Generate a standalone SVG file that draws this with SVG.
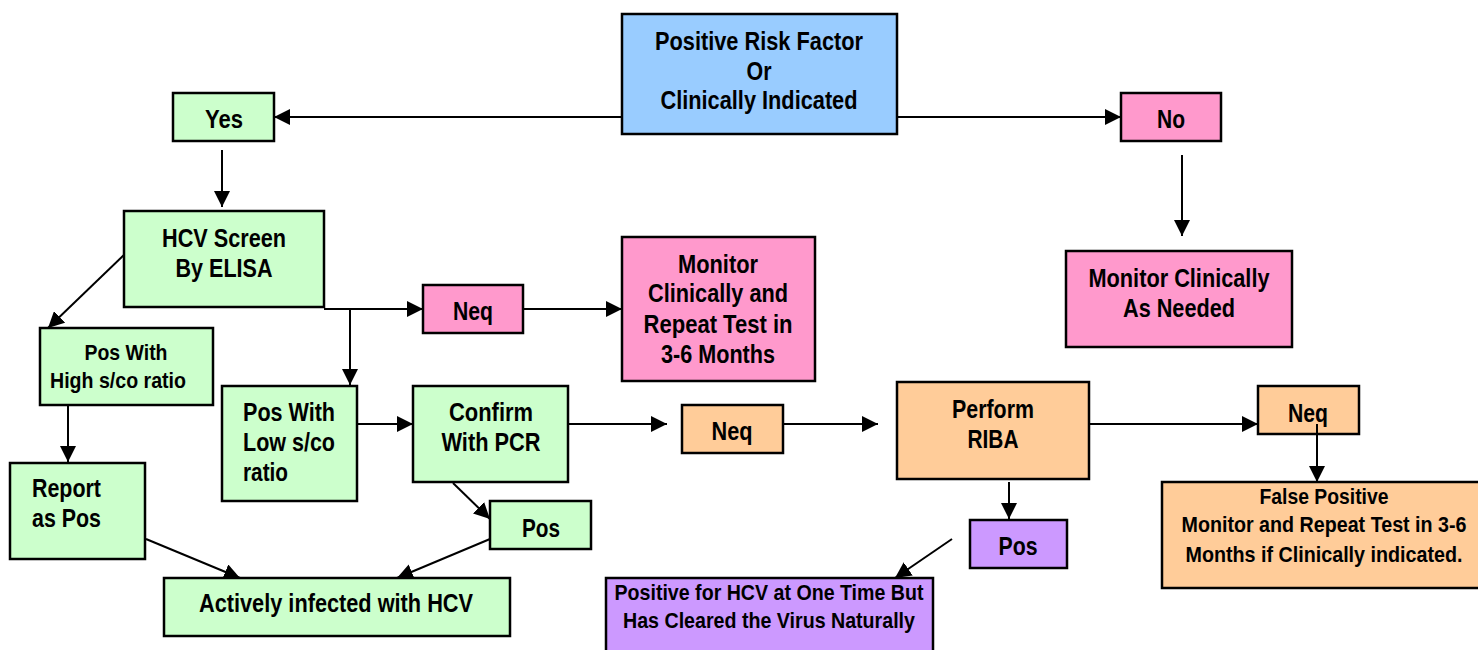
<svg xmlns="http://www.w3.org/2000/svg" width="1478" height="650" viewBox="0 0 1478 650">
<style>
rect{stroke:#000;stroke-width:2.5}
.g{fill:#CCFFCC}.p{fill:#FF99CC}.b{fill:#99CCFF}.o{fill:#FFCC99}.v{fill:#CC99FF}
text{font-family:"Liberation Sans",Arial,sans-serif;font-weight:bold;font-size:25px;fill:#000}
.s{font-size:22px}
.c{text-anchor:middle}
#connectors line{stroke:#000;stroke-width:2;marker-end:url(#ah)}
#connectors line.n{marker-end:none}
</style>
<defs>
<marker id="ah" viewBox="0 0 16 16" refX="16" refY="8" markerWidth="16" markerHeight="16" markerUnits="userSpaceOnUse" orient="auto"><path d="M0,0 L16,8 L0,16 z" fill="#000"/></marker>
</defs>
<rect width="1478" height="650" fill="#fff" style="stroke:none"/>
<g id="connectors">
<line x1="622" y1="117" x2="274" y2="117"/>
<line x1="897" y1="117" x2="1121" y2="117"/>
<line x1="222" y1="150" x2="222" y2="207"/>
<line x1="1182" y1="155" x2="1182" y2="236"/>
<line x1="127" y1="252" x2="48" y2="328"/>
<line x1="324" y1="309" x2="423" y2="309"/>
<line x1="350" y1="309" x2="350" y2="385"/>
<line x1="523" y1="309" x2="622" y2="309"/>
<line x1="68" y1="405" x2="68" y2="462"/>
<line x1="357" y1="424" x2="413" y2="424"/>
<line x1="568" y1="424" x2="667" y2="424"/>
<line x1="778" y1="424" x2="878" y2="424"/>
<line x1="1089" y1="424" x2="1258" y2="424"/>
<line x1="1317" y1="424" x2="1317" y2="482"/>
<line x1="1009" y1="482" x2="1009" y2="519"/>
<line x1="952" y1="539" x2="895" y2="578"/>
<line x1="453" y1="483" x2="490" y2="519"/>
<line x1="490" y1="539" x2="397" y2="578"/>
<line x1="146" y1="539" x2="240" y2="578"/>
</g>
<g id="risk"><rect class="b" x="622" y="14" width="275" height="120"/>
<text class="c" x="759" y="50" textLength="208" lengthAdjust="spacingAndGlyphs">Positive Risk Factor</text>
<text class="c" x="759" y="80" textLength="25" lengthAdjust="spacingAndGlyphs">Or</text>
<text class="c" x="759" y="109" textLength="197" lengthAdjust="spacingAndGlyphs">Clinically Indicated</text></g>
<g id="yes"><rect class="g" x="173" y="93" width="101" height="48"/>
<text class="c" x="224" y="128" textLength="38" lengthAdjust="spacingAndGlyphs">Yes</text></g>
<g id="no"><rect class="p" x="1121" y="93" width="100" height="48"/>
<text class="c" x="1171" y="128" textLength="28" lengthAdjust="spacingAndGlyphs">No</text></g>
<g id="hcv"><rect class="g" x="124" y="211" width="200" height="96"/>
<text class="c" x="224" y="247" textLength="124" lengthAdjust="spacingAndGlyphs">HCV Screen</text>
<text class="c" x="224" y="277" textLength="97" lengthAdjust="spacingAndGlyphs">By ELISA</text></g>
<g id="neg1"><rect class="p" x="423" y="285" width="100" height="48"/>
<text class="c" x="473" y="320" textLength="40" lengthAdjust="spacingAndGlyphs">Neq</text></g>
<g id="monitor1"><rect class="p" x="622" y="237" width="193" height="144"/>
<text class="c" x="718" y="273" textLength="80" lengthAdjust="spacingAndGlyphs">Monitor</text>
<text class="c" x="718" y="302" textLength="140" lengthAdjust="spacingAndGlyphs">Clinically and</text>
<text class="c" x="718" y="333" textLength="149" lengthAdjust="spacingAndGlyphs">Repeat Test in</text>
<text class="c" x="718" y="363" textLength="114" lengthAdjust="spacingAndGlyphs">3-6 Months</text></g>
<g id="monitor2"><rect class="p" x="1066" y="251" width="226" height="96"/>
<text class="c" x="1179" y="287" textLength="181" lengthAdjust="spacingAndGlyphs">Monitor Clinically</text>
<text class="c" x="1179" y="317" textLength="112" lengthAdjust="spacingAndGlyphs">As Needed</text></g>
<g id="high"><rect class="g" x="40" y="328" width="173" height="77"/>
<text class="c s" x="126" y="360" textLength="83" lengthAdjust="spacingAndGlyphs">Pos With</text>
<text class="c s" x="118" y="388" textLength="136" lengthAdjust="spacingAndGlyphs">High s/co ratio</text></g>
<g id="report"><rect class="g" x="10" y="463" width="135" height="96"/>
<text x="32" y="497" textLength="69" lengthAdjust="spacingAndGlyphs">Report</text>
<text x="32" y="527" textLength="69" lengthAdjust="spacingAndGlyphs">as Pos</text></g>
<g id="low"><rect class="g" x="222" y="386" width="135" height="115"/>
<text x="243" y="421" textLength="92" lengthAdjust="spacingAndGlyphs">Pos With</text>
<text x="243" y="451" textLength="92" lengthAdjust="spacingAndGlyphs">Low s/co</text>
<text x="243" y="481" textLength="45" lengthAdjust="spacingAndGlyphs">ratio</text></g>
<g id="confirm"><rect class="g" x="413" y="386" width="155" height="96"/>
<text class="c" x="491" y="421" textLength="84" lengthAdjust="spacingAndGlyphs">Confirm</text>
<text class="c" x="491" y="451" textLength="99" lengthAdjust="spacingAndGlyphs">With PCR</text></g>
<g id="pos1"><rect class="g" x="490" y="501" width="101" height="48"/>
<text class="c" x="541" y="537" textLength="38" lengthAdjust="spacingAndGlyphs">Pos</text></g>
<g id="active"><rect class="g" x="164" y="578" width="346" height="58"/>
<text class="c" x="336" y="612" textLength="274" lengthAdjust="spacingAndGlyphs">Actively infected with HCV</text></g>
<g id="neg2"><rect class="o" x="682" y="405" width="101" height="48"/>
<text class="c" x="732" y="440" textLength="41" lengthAdjust="spacingAndGlyphs">Neq</text></g>
<g id="riba"><rect class="o" x="897" y="382" width="192" height="97"/>
<text class="c" x="993" y="418" textLength="82" lengthAdjust="spacingAndGlyphs">Perform</text>
<text class="c" x="993" y="448" textLength="51" lengthAdjust="spacingAndGlyphs">RIBA</text></g>
<g id="pos2"><rect class="v" x="970" y="520" width="97" height="48"/>
<text class="c" x="1018" y="555" textLength="39" lengthAdjust="spacingAndGlyphs">Pos</text></g>
<g id="cleared"><rect class="v" x="606" y="578" width="327" height="80"/>
<text class="c s" x="769" y="600" textLength="309" lengthAdjust="spacingAndGlyphs">Positive for HCV at One Time But</text>
<text class="c s" x="769" y="628" textLength="292" lengthAdjust="spacingAndGlyphs">Has Cleared the Virus Naturally</text></g>
<g id="neg3"><rect class="o" x="1258" y="386" width="101" height="48"/>
<text class="c" x="1308" y="422" textLength="40" lengthAdjust="spacingAndGlyphs">Neq</text></g>
<line x1="1317" y1="424" x2="1317" y2="470" stroke="#000" stroke-width="2"/>
<g id="falsepos"><rect class="o" x="1162" y="482" width="330" height="106"/>
<text class="c s" x="1324" y="504" textLength="129" lengthAdjust="spacingAndGlyphs">False Positive</text>
<text class="c s" x="1324" y="532" textLength="285" lengthAdjust="spacingAndGlyphs">Monitor and Repeat Test in 3-6</text>
<text class="c s" x="1324" y="562" textLength="277" lengthAdjust="spacingAndGlyphs">Months if Clinically indicated.</text></g>
</svg>
